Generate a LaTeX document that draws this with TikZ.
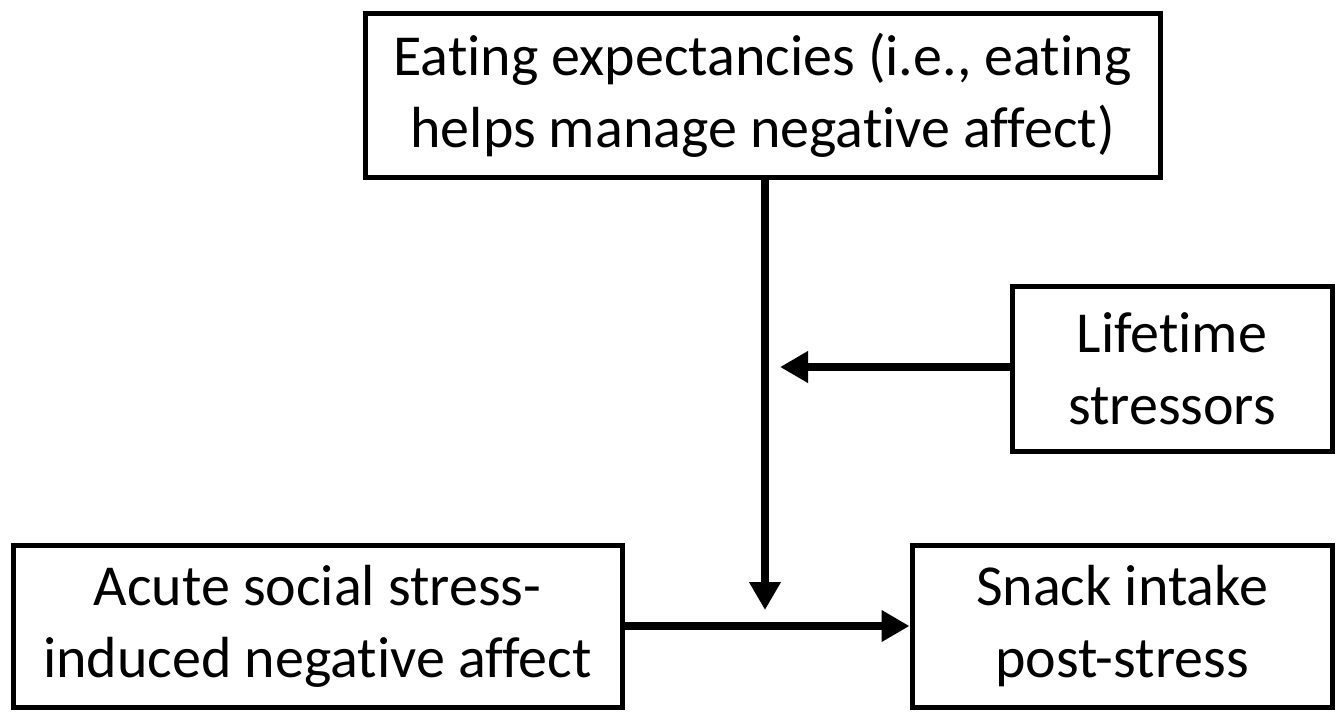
\documentclass[tikz,border=0pt]{standalone}
\usepackage{fontspec}
\setmainfont[Ligatures=NoCommon]{Carlito}
\usetikzlibrary{arrows.meta}
\begin{document}
\begin{tikzpicture}[x=0.5pt,y=-0.5pt,
  box/.style={draw=black,line width=2.5pt,align=center,inner sep=0pt,
    font=\fontsize{29}{36}\selectfont},
  arr/.style={line width=4pt,-{Triangle[length=14pt,width=15pt]}}]
\useasboundingbox (0,0) rectangle (1342,713);
\node[box,minimum width=397.5pt,minimum height=82pt] (eat) at (762.5,95)
  {Eating expectancies (i.e., eating\\helps manage negative affect)};
\node[box,minimum width=160pt,minimum height=82.5pt] (life) at (1172,368.5)
  {Lifetime\\stressors};
\node[box,minimum width=304.5pt,minimum height=81pt] (acute) at (317.5,626)
  {Acute social stress-\\induced negative affect};
\node[box,minimum width=210pt,minimum height=81pt] (snack) at (1122,626)
  {Snack intake\\post-stress};
\coordinate (vt) at (765,177);
\coordinate (vb) at (765,610);
\coordinate (lt) at (780,367);
\draw[arr] (vt) -- (vb);
\draw[arr] (life.west |- lt) -- (lt);
\draw[arr] (acute.east) -- (snack.west);
\end{tikzpicture}
\end{document}
